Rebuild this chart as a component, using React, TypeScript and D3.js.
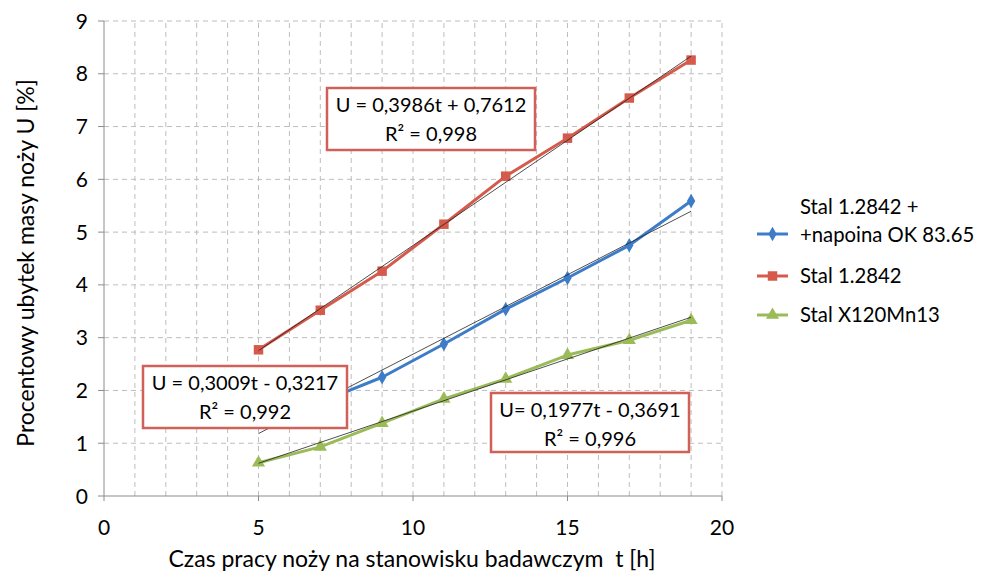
import * as React from 'react';
import * as d3 from 'd3';

const czas = [5, 7, 9, 11, 13, 15, 17, 19];
const napoina = [1.39, 1.78, 2.25, 2.88, 3.54, 4.13, 4.75, 5.59];
const stal = [2.77, 3.52, 4.26, 5.15, 6.06, 6.78, 7.54, 8.26];
const manganowa = [0.63, 0.93, 1.38, 1.84, 2.22, 2.67, 2.95, 3.33];

const xTicks = [0, 5, 10, 15, 20];
const yTicks = [0, 1, 2, 3, 4, 5, 6, 7, 8, 9];

// trend line coefficients for U = a*t + b
const trends = [
  { key: 'napoina', a: 0.3009, b: -0.3217 },
  { key: 'stal', a: 0.3986, b: 0.7612 },
  { key: 'mangan', a: 0.1977, b: -0.3691 },
];

const labels = [
  { lines: ['U = 0,3986t + 0,7612', 'R² = 0,998'], x: 327, y: 88, w: 208, h: 62 },
  { lines: ['U = 0,3009t - 0,3217', 'R² = 0,992'], x: 143, y: 366, w: 204, h: 62 },
  { lines: ['U= 0,1977t - 0,3691', 'R² = 0,996'], x: 491, y: 393, w: 198, h: 59 },
];

const BLUE = '#3d7cc9';
const RED = '#d65a4c';
const GREEN = '#9bbb59';
const FONT = 'Lato, "Open Sans", sans-serif';

export default function App() {
  const width = 981;
  const height = 574;
  const x = d3.scaleLinear().domain([0, 20]).range([104, 722]);
  const y = d3.scaleLinear().domain([0, 9]).range([496, 21]);

  const line = d3
    .line<[number, number]>()
    .x((d) => x(d[0]))
    .y((d) => y(d[1]));

  const series = [
    { name: 'napoina', values: napoina, color: BLUE, marker: 'diamond' },
    { name: 'stal', values: stal, color: RED, marker: 'square' },
    { name: 'mangan', values: manganowa, color: GREEN, marker: 'triangle' },
  ];

  const symbolFor = (m: string, size: number) => {
    const t = m === 'diamond' ? d3.symbolDiamond : m === 'square' ? d3.symbolSquare : d3.symbolTriangle;
    return d3.symbol().type(t).size(size)() as string;
  };
  const sizeFor = (m: string) => (m === 'diamond' ? 60 : m === 'square' ? 90 : 75);

  const vGrid = d3.range(1, 21);
  const hGrid = d3.range(1, 10);

  return (
    <svg width={width} height={height} style={{ position: 'absolute', left: 0, top: 0 }}>
      <rect width={width} height={height} fill="#fff" />
      {vGrid.map((v) => (
        <line key={'v' + v} x1={x(v)} x2={x(v)} y1={y(0)} y2={y(9)} stroke="#bdbdbd" strokeDasharray="5,4" />
      ))}
      {hGrid.map((v) => (
        <line key={'h' + v} x1={x(0)} x2={x(20)} y1={y(v)} y2={y(v)} stroke="#bdbdbd" strokeDasharray="5,4" />
      ))}
      <line x1={x(0)} x2={x(0)} y1={y(0)} y2={y(9)} stroke="#8c8c8c" />
      <line x1={x(0)} x2={x(20)} y1={y(0)} y2={y(0)} stroke="#8c8c8c" />
      {yTicks.map((v) => (
        <g key={'yt' + v}>
          <line x1={x(0) - 6} x2={x(0)} y1={y(v)} y2={y(v)} stroke="#8c8c8c" />
          <text x={88} y={y(v)} dy="0.36em" textAnchor="end" fontFamily={FONT} fontSize={21} fill="#000">
            {v}
          </text>
        </g>
      ))}
      {xTicks.map((v) => (
        <g key={'xt' + v}>
          <line x1={x(v)} x2={x(v)} y1={y(0)} y2={y(0) + 5} stroke="#8c8c8c" />
          <text x={x(v)} y={535} textAnchor="middle" fontFamily={FONT} fontSize={21} fill="#000">
            {v}
          </text>
        </g>
      ))}
      <text x={412} y={567} textAnchor="middle" fontFamily={FONT} fontSize={23} fill="#000">
        {'Czas pracy noży na stanowisku badawczym \u00a0t [h]'}
      </text>
      <text
        transform="translate(34,263) rotate(-90)"
        textAnchor="middle"
        fontFamily={FONT}
        fontSize={23}
        fill="#000"
      >
        Procentowy ubytek masy noży U [%]
      </text>

      {series.map((s) => (
        <g key={s.name}>
          <path
            d={line(czas.map((t, i) => [t, s.values[i]]) as [number, number][]) as string}
            fill="none"
            stroke={s.color}
            strokeWidth={3}
            strokeLinejoin="round"
          />
          {czas.map((t, i) => (
            <path
              key={t}
              transform={`translate(${x(t)},${y(s.values[i])})`}
              d={symbolFor(s.marker, sizeFor(s.marker))}
              fill={s.color}
            />
          ))}
        </g>
      ))}

      {trends.map((tr) => (
        <path
          key={tr.key}
          d={line([[5, tr.a * 5 + tr.b], [19, tr.a * 19 + tr.b]]) as string}
          stroke="#222"
          strokeWidth={0.8}
          fill="none"
        />
      ))}

      {labels.map((l, i) => (
        <g key={i}>
          <rect x={l.x} y={l.y} width={l.w} height={l.h} fill="#fff" stroke="#d0605a" strokeWidth={2.5} />
          {l.lines.map((txt, j) => (
            <text
              key={j}
              x={l.x + l.w / 2}
              y={l.y + 24 + j * 29}
              textAnchor="middle"
              fontFamily={FONT}
              fontSize={20}
              fill="#000"
            >
              {txt}
            </text>
          ))}
        </g>
      ))}

      {/* legend */}
      <g fontFamily={FONT} fontSize={20.3} fill="#000">
        <text x={800} y={214}>Stal 1.2842 +</text>
        <text x={800} y={242}>+napoina OK 83.65</text>
        <text x={800} y={283}>Stal 1.2842</text>
        <text x={800} y={322}>Stal X120Mn13</text>
      </g>
      {series.map((s, i) => {
        const ly = [234, 276, 315][i];
        return (
          <g key={'lg' + s.name}>
            <line x1={757} x2={788} y1={ly} y2={ly} stroke={s.color} strokeWidth={3} />
            <path transform={`translate(772.5,${ly})`} d={symbolFor(s.marker, sizeFor(s.marker))} fill={s.color} />
          </g>
        );
      })}
    </svg>
  );
}
